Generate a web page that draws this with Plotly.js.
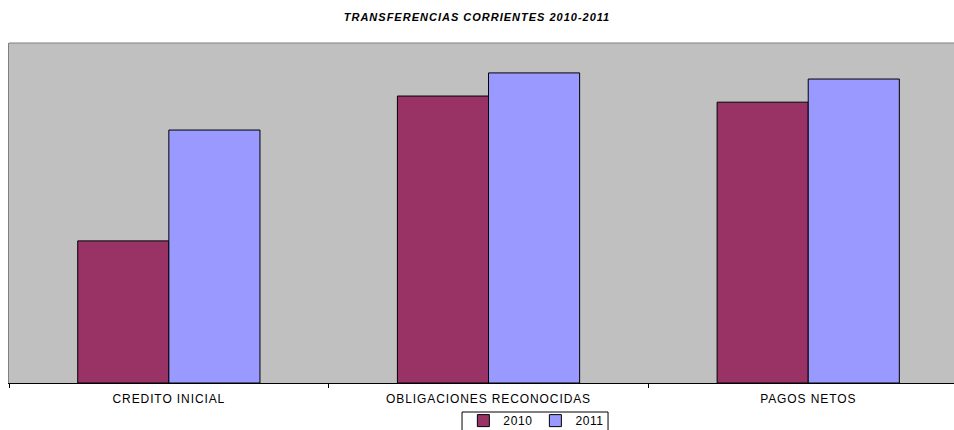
<!DOCTYPE html>
<html>
<head>
<meta charset="utf-8">
<script src="https://cdn.plot.ly/plotly-3.0.1.min.js"></script>
<style>
html,body{margin:0;padding:0;overflow:hidden;background:#fff;}
#chart .xtick text{letter-spacing:0.9px;}
#chart .gtitle{letter-spacing:1px;}
#chart .legendtext{letter-spacing:0.6px;}
</style>
</head>
<body>
<div id="chart" style="width:954px;height:430px;"></div>
<script>
const categories = ["CREDITO INICIAL", "OBLIGACIONES RECONOCIDAS", "PAGOS NETOS"];
const values2010 = [4180, 8440, 8260];
const values2011 = [7440, 9120, 8940];
const seriesNames = ["2010", "2011"];

const traces = [
  {type: "bar", name: seriesNames[0], x: categories, y: values2010,
   marker: {color: "#993366", line: {color: "#000000", width: 1}}},
  {type: "bar", name: seriesNames[1], x: categories, y: values2011,
   marker: {color: "#9999ff", line: {color: "#000000", width: 1}}}
];

const layout = {
  width: 954, height: 430,
  margin: {l: 9, r: 0, t: 43, b: 47, autoexpand: false},
  paper_bgcolor: "#ffffff",
  plot_bgcolor: "#c0c0c0",
  font: {family: "Liberation Sans, Arial, sans-serif", size: 11, color: "#000"},
  title: {text: "<b><i>TRANSFERENCIAS CORRIENTES 2010-2011</i></b>", x: 0.5, xref: "container",
          y: 0.96, yref: "container", yanchor: "middle",
          font: {family: "Liberation Sans, Arial, sans-serif", size: 11, color: "#000"}},
  barmode: "group",
  bargap: 0.43,
  bargroupgap: 0,
  showlegend: true,
  legend: {orientation: "h", x: 0.557, xanchor: "center", y: -0.068, yanchor: "top",
           borderwidth: 0, bgcolor: "rgba(0,0,0,0)",
           font: {size: 12}, itemwidth: 30, traceorder: "normal"},
  xaxis: {type: "category", range: [-0.5, 2.456], tickson: "boundaries",
          ticks: "outside", ticklen: 4, tickcolor: "#000", tickwidth: 1,
          ticklabelstandoff: 5,
          showline: true, linecolor: "#000", linewidth: 1,
          showgrid: false, zeroline: false, tickfont: {size: 12}},
  yaxis: {range: [0, 10000], showticklabels: false, showgrid: false, zeroline: false,
          showline: true, linecolor: "#808080", linewidth: 1, ticks: ""},
  shapes: [
    {type: "line", xref: "paper", yref: "paper", x0: 0, x1: 1, y0: 1, y1: 1,
     line: {color: "#808080", width: 1}},
    {type: "rect", xref: "paper", yref: "paper", x0: 0.4794, x1: 0.6339, y0: -0.0853, y1: -0.2,
     fillcolor: "#ffffff", line: {color: "#000000", width: 1}}
  ]
};

Plotly.newPlot("chart", traces, layout, {displayModeBar: false, staticPlot: true});
</script>
</body>
</html>
